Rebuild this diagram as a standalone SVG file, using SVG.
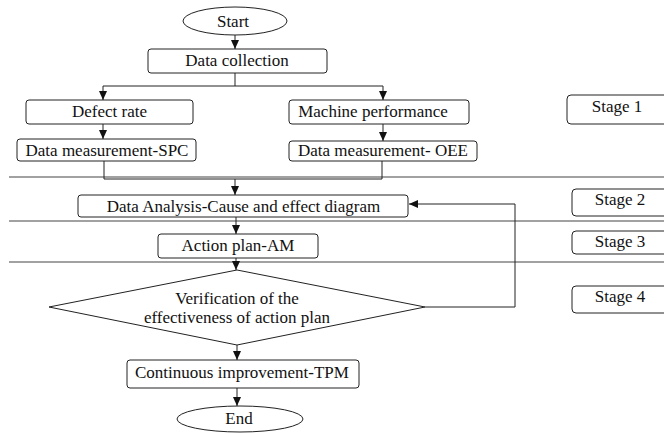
<svg xmlns="http://www.w3.org/2000/svg" width="664" height="433" viewBox="0 0 664 433">
<defs>
<style>
.box{fill:#fff;stroke:#222;stroke-width:1}
.sep{fill:none;stroke:#444;stroke-width:1.2}
.ln{fill:none;stroke:#222;stroke-width:1}
text{font-family:"Liberation Serif","Times New Roman",serif;font-size:17px;fill:#111;text-anchor:middle}
</style>
<marker id="ah" markerUnits="userSpaceOnUse" markerWidth="10" markerHeight="10" viewBox="0 0 10 10" refX="9" refY="5" orient="auto">
<path d="M0,1 L9,5 L0,9 Z" fill="#111"/>
</marker>
</defs>
<rect width="664" height="433" fill="#fff"/>
<g id="separators">
<line class="sep" x1="9" y1="177" x2="664" y2="177"/>
<line class="sep" x1="9" y1="221" x2="664" y2="221"/>
<line class="sep" x1="9" y1="262" x2="664" y2="262"/>
</g>
<g id="connectors">
<line class="ln" x1="235" y1="35" x2="235" y2="49" marker-end="url(#ah)"/>
<polyline class="ln" points="235,73 235,86"/>
<polyline class="ln" points="103,86 383,86"/>
<line class="ln" x1="103" y1="86" x2="103" y2="100" marker-end="url(#ah)"/>
<line class="ln" x1="383" y1="86" x2="383" y2="100" marker-end="url(#ah)"/>
<line class="ln" x1="103" y1="124" x2="103" y2="139" marker-end="url(#ah)"/>
<line class="ln" x1="383" y1="124" x2="383" y2="141" marker-end="url(#ah)"/>
<polyline class="ln" points="104,161 104,179 382,179 382,161"/>
<line class="ln" x1="235" y1="179" x2="235" y2="195" marker-end="url(#ah)"/>
<line class="ln" x1="236" y1="217" x2="236" y2="234" marker-end="url(#ah)"/>
<line class="ln" x1="236" y1="258" x2="236" y2="270" marker-end="url(#ah)"/>
<line class="ln" x1="237" y1="345" x2="237" y2="360" marker-end="url(#ah)"/>
<line class="ln" x1="237" y1="388" x2="237" y2="406" marker-end="url(#ah)"/>
<polyline class="ln" points="425,307 515,307 515,204 409,204" marker-end="url(#ah)"/>
</g>
<g id="start">
<ellipse class="box" cx="235" cy="21" rx="52" ry="14"/>
<text x="233" y="27">Start</text>
</g>
<g id="data-collection">
<rect class="box" x="148" y="49" width="179" height="24" rx="3"/>
<text x="237" y="66">Data collection</text>
</g>
<g id="defect-rate">
<rect class="box" x="26" y="100" width="167" height="24" rx="3"/>
<text x="109.5" y="117">Defect rate</text>
</g>
<g id="machine-performance">
<rect class="box" x="289" y="100" width="180" height="24" rx="3"/>
<text x="373" y="117">Machine performance</text>
</g>
<g id="spc">
<rect class="box" x="17" y="139" width="179" height="22" rx="3"/>
<text x="107" y="156">Data measurement-SPC</text>
</g>
<g id="oee">
<rect class="box" x="289" y="141" width="188" height="20" rx="3"/>
<text x="383" y="156">Data measurement- OEE</text>
</g>
<g id="data-analysis">
<rect class="box" x="78" y="195" width="330" height="22" rx="3"/>
<text x="243.5" y="212">Data Analysis-Cause and effect diagram</text>
</g>
<g id="action-plan">
<rect class="box" x="158" y="234" width="160" height="24" rx="3"/>
<text x="238" y="251">Action plan-AM</text>
</g>
<g id="verification">
<polygon class="box" points="237,270 425,307 237,345 49,307"/>
<text x="237" y="304">Verification of the</text>
<text x="237" y="323">effectiveness of action plan</text>
</g>
<g id="continuous">
<rect class="box" x="127" y="360" width="232" height="28" rx="3"/>
<text x="242" y="378">Continuous improvement-TPM</text>
</g>
<g id="end">
<ellipse class="box" cx="240" cy="419" rx="63" ry="13"/>
<text x="239" y="424">End</text>
</g>
<g id="stage1">
<rect class="box" x="567" y="95" width="110" height="29" rx="4"/>
<text x="617" y="112">Stage 1</text>
</g>
<g id="stage2">
<rect class="box" x="572" y="189" width="110" height="27" rx="4"/>
<text x="620" y="205">Stage 2</text>
</g>
<g id="stage3">
<rect class="box" x="572" y="231" width="110" height="23" rx="4"/>
<text x="620" y="247">Stage 3</text>
</g>
<g id="stage4">
<rect class="box" x="572" y="286" width="110" height="27" rx="4"/>
<text x="620" y="302">Stage 4</text>
</g>
</svg>
